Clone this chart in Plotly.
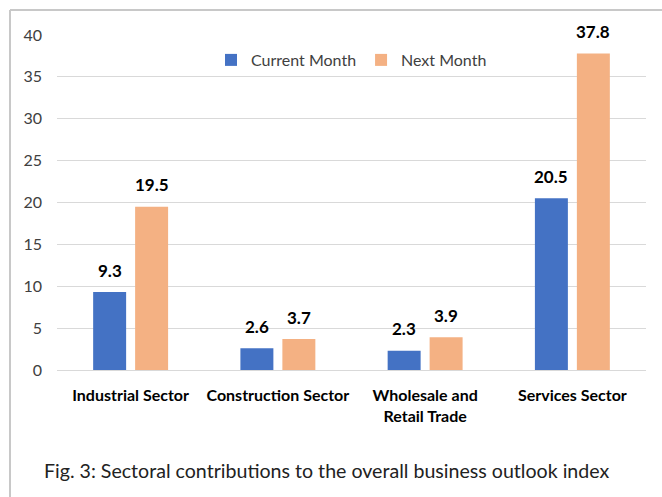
import plotly.graph_objects as go

categories = ["Industrial Sector", "Construction Sector", "Wholesale and<br>Retail Trade", "Services Sector"]
current_month = [9.3, 2.6, 2.3, 20.5]
next_month = [19.5, 3.7, 3.9, 37.8]
y_ticks = [0, 5, 10, 15, 20, 25, 30, 35, 40]
caption = "Fig. 3: Sectoral contributions to the overall business outlook index"

FONT = "Lato"
W, H = 662, 497
ml, mr, mt, mb = 57, 16, 35, 127
pw, ph = W - ml - mr, H - mt - mb

def px_x(p):
    return (p - ml) / pw

def px_y(p):
    return (H - mb - p) / ph

fig = go.Figure()
fig.add_trace(go.Bar(name="Current Month", x=categories, y=current_month,
                     marker_color="#4472C4", marker_line_width=0))
fig.add_trace(go.Bar(name="Next Month", x=categories, y=next_month,
                     marker_color="#F4B183", marker_line_width=0))

annotations = []
label_font = dict(family=FONT, size=17, color="#000000", weight="bold")
for series, shift in ((current_month, -21), (next_month, 21)):
    for cat, v in zip(categories, series):
        annotations.append(dict(x=cat, y=v, xref="x", yref="y", text=f"{v:.1f}",
                                showarrow=False, xshift=shift, yshift=22,
                                xanchor="center", yanchor="middle", font=label_font))

annotations.append(dict(text=caption, x=px_x(326), y=px_y(470), xref="paper", yref="paper",
                        xanchor="center", yanchor="middle", showarrow=False,
                        font=dict(family=FONT, size=19.6, color="#222222")))

fig.update_layout(
    width=W, height=H,
    margin=dict(l=ml, r=mr, t=mt, b=mb),
    paper_bgcolor="white", plot_bgcolor="white",
    barmode="group", bargap=0.43, bargroupgap=0.214,
    font=dict(family=FONT, color="#404040"),
    legend=dict(orientation="h", x=0.5, xanchor="center", y=px_y(60), yanchor="middle",
                font=dict(family=FONT, size=16, color="#404040"),
                bgcolor="rgba(0,0,0,0)"),
    xaxis=dict(tickfont=dict(family=FONT, size=16, color="#000000", weight="bold"),
               showgrid=False, showline=False, ticks="", ticklabelstandoff=14),
    yaxis=dict(range=[0, 40], tickvals=y_ticks, showgrid=True, gridcolor="#D9D9D9",
               gridwidth=1, zeroline=True, zerolinecolor="#D9D9D9", zerolinewidth=1,
               tickfont=dict(family=FONT, size=16, color="#404040"), ticks="",
               ticklabelstandoff=14),
    annotations=annotations,
    shapes=[
        dict(type="line", xref="paper", yref="paper", x0=px_x(10), x1=px_x(W + 5),
             y0=px_y(10), y1=px_y(10), line=dict(color="#C8C8C8", width=2)),
        dict(type="line", xref="paper", yref="paper", x0=px_x(10), x1=px_x(10),
             y0=px_y(10), y1=px_y(H + 5), line=dict(color="#C8C8C8", width=2)),
    ],
)

fig.write_html("out.html", config={"displayModeBar": False},
               post_script="document.body.style.margin='0';")
